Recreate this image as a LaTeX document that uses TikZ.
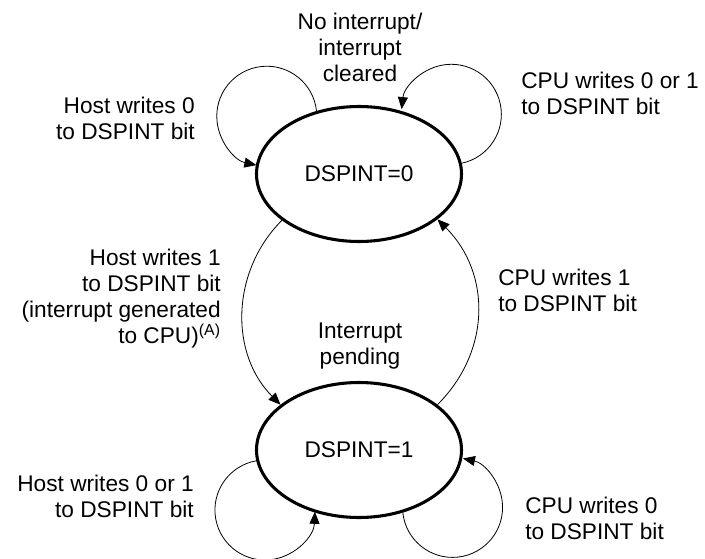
\documentclass[tikz,border=0pt]{standalone}
\usepackage{fontspec}
\setmainfont{Liberation Sans}
\usetikzlibrary{arrows.meta,shapes.geometric}

\begin{document}
\begin{tikzpicture}[x=0.75pt, y=0.75pt, font=\fontsize{17}{19.5}\selectfont,
    statebox/.style={ellipse, draw, line width=2.3pt, minimum width=153.75pt,
      minimum height=101.25pt, inner sep=0pt},
    conn/.style={line width=0.6pt, -{Triangle[length=9pt,width=7.5pt]}},
    lbl/.style={inner sep=0pt}]
    \clip (0,0) rectangle (705,558);
    % the two states
    \node[statebox] (s0) at (359,384) {DSPINT=0};
    \node[statebox] (s1) at (359,108) {DSPINT=1};
    % self loops
    \draw[conn] (s0.124) arc[start angle=6, end angle=258, radius=50];
    \draw[conn] (s0.6) arc[start angle=-78, end angle=174, radius=50];
    \draw[conn] (s1.186) arc[start angle=100, end angle=358, radius=50];
    \draw[conn] (s1.305) arc[start angle=186, end angle=438, radius=50];
    % transitions between the states
    \draw[conn] (s0.211) to[out=225, in=135] (s1.150);
    \draw[conn] (s1.30) to[out=45, in=-45, looseness=1.05] (s0.330);
    % labels
    \node[lbl, align=center] (noint) at (360,510.5) {No interrupt/\\interrupt\\cleared};
    \node[lbl, align=right, anchor=east] (host0) at (195,439.5) {Host writes 0\\to DSPINT bit};
    \node[lbl, align=left, anchor=west] (cpu01) at (521,464.5) {CPU writes 0 or 1\\to DSPINT bit};
    \node[lbl, align=right, anchor=east] (host1) at (221,259.5)
      {Host writes 1\\to DSPINT bit\\(interrupt generated\\to CPU)\textsuperscript{(A)}};
    \node[lbl, align=left, anchor=west] (cpu1) at (498,267.5) {CPU writes 1\\to DSPINT bit};
    \node[lbl, align=center] (pend) at (360,211.5) {Interrupt\\pending};
    \node[lbl, align=right, anchor=east] (host01) at (194,61.5) {Host writes 0 or 1\\to DSPINT bit};
    \node[lbl, align=left, anchor=west] (cpu0) at (525,40) {CPU writes 0\\to DSPINT bit};
\end{tikzpicture}
\end{document}
